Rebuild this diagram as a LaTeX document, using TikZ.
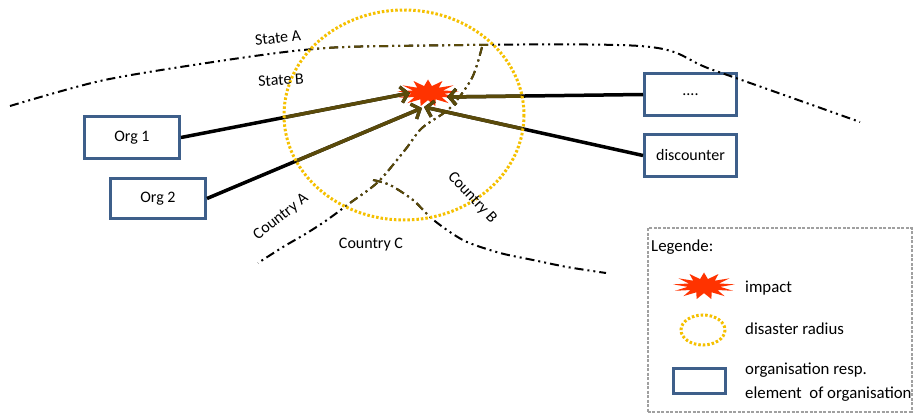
\documentclass[tikz,border=0pt]{standalone}
\usepackage{fontspec}
\setmainfont{Carlito}
\usetikzlibrary{arrows.meta,shapes.geometric}
\definecolor{orgblue}{HTML}{3E5F8A}
\definecolor{radiuscol}{HTML}{F5C000}
\definecolor{impactred}{HTML}{FF3300}
\definecolor{insidecol}{HTML}{5A4A0A}
\definecolor{framegray}{HTML}{A0A0A0}

% connectors from the organisations to the point of impact
\newcommand\drawlinks[1]{%
  \draw[link,#1] (org1.east) -- (tip1);
  \draw[link,#1] (org2.east) -- (tip2);
  \draw[link,#1] (dots.west) -- (tip3);
  \draw[link,#1] (disc.west) -- (tip4);
}
% state and country borders
\newcommand\drawborders[1]{%
  \draw[border,#1] plot[smooth,tension=0.5] coordinates {(10,106) (100,81) (200,64) (303,50) (390,46) (640,46) (713,70) (860,122)};
  \draw[border,#1] plot[smooth,tension=0.5] coordinates {(482,47) (472,78) (450,108) (422,128) (405,150) (378,182) (350,203) (327,220) (307,233) (283,247) (258,263)};
  \draw[border,#1] plot[smooth,tension=0.5] coordinates {(373,180) (390,185) (413,200) (430,217) (447,230) (467,242) (500,253) (533,260) (567,267) (606,273)};
}

\begin{document}
\begin{tikzpicture}[x=1pt,y=-1pt,
  font=\fontsize{16}{19}\selectfont,
  orgbox/.style={draw=orgblue, line width=3pt, fill=white, inner sep=0pt},
  link/.style={line width=3.5pt, -{Straight Barb[length=7pt,width=16pt,line width=3.2pt]}},
  border/.style={line width=2pt, dash pattern=on 9pt off 4pt on 2pt off 4pt on 2pt off 4pt},
  radiusline/.style={draw=radiuscol, line width=3pt, dash pattern=on 2.5pt off 2pt},
  impactstar/.style={star, star points=13, star point ratio=1.9, fill=impactred, inner sep=0pt, minimum size=27pt, xscale=2.3},
  label/.style={inner sep=0pt},
  legendtext/.style={anchor=west, inner sep=0pt, align=left, font=\fontsize{16.8}{23.5}\selectfont}
]
\useasboundingbox (0,0) rectangle (914,414);

% organisations
\node[orgbox, minimum width=95pt, minimum height=42pt] (org1) at (132,137.5) {Org 1};
\node[orgbox, minimum width=95pt, minimum height=40pt] (org2) at (158,198.5) {Org 2};
\node[orgbox, minimum width=92pt, minimum height=42pt] (dots) at (690.5,94.5) {....};
\node[orgbox, minimum width=92pt, minimum height=42pt] (disc) at (690.5,155.5) {discounter};

% point of impact
\node[impactstar] (impact) at (428,93) {};
\coordinate (tip1) at (410,93);
\coordinate (tip2) at (422,108);
\coordinate (tip3) at (447,97);
\coordinate (tip4) at (424,107);

% borders and connectors, darker inside the disaster radius
\drawborders{black}
\drawlinks{black}
\begin{scope}
  \clip (404,115) ellipse [x radius=120, y radius=105];
  \drawborders{insidecol}
  \drawlinks{insidecol}
\end{scope}

% disaster radius
\draw[radiusline] (404,115) ellipse [x radius=120, y radius=105];

% border labels
\node[label, rotate=6] (stateA) at (278,38) {State A};
\node[label, rotate=4] (stateB) at (281,80) {State B};
\node[label, rotate=38] (countryA) at (281,217) {Country A};
\node[label, rotate=-47] (countryB) at (472,198) {Country B};
\node[label] (countryC) at (371,245) {Country C};

% legend
\node[draw=framegray, line width=2pt, dash pattern=on 3pt off 1.5pt, minimum width=264pt, minimum height=183pt, inner sep=0pt] (legend) at (779.5,320) {};
\node[legendtext] (legendtitle) at (651,247) {Legende:};
\node[impactstar] (legstar) at (704,286) {};
\node[legendtext] (legimpact) at (745,288) {impact};
\draw[radiusline] (703,330) ellipse [x radius=22, y radius=15];
\node[legendtext] (legradius) at (745,329) {disaster radius};
\node[orgbox, minimum width=52pt, minimum height=24pt] (legbox) at (699.5,381) {};
\node[legendtext] (legorg) at (745,382) {organisation resp.\\element~ of organisation};
\end{tikzpicture}
\end{document}
